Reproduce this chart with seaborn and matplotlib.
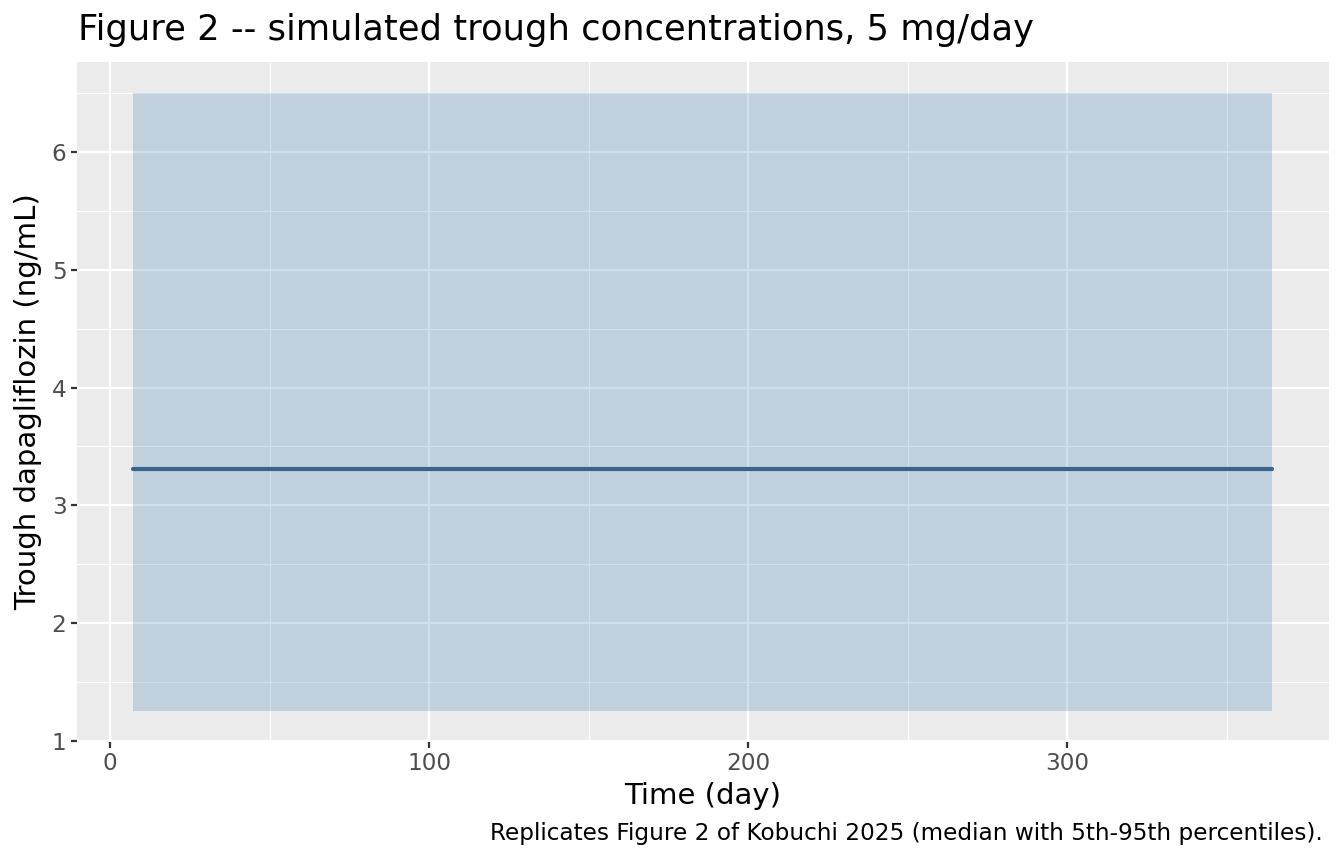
import numpy as np
import pandas as pd
import seaborn as sns
import matplotlib.pyplot as plt

# values (constant steady-state trough)
days = [7, 364]
median_conc = [3.31, 3.31]
p05_conc = [1.25, 1.25]
p95_conc = [6.5, 6.5]

x_ticks = [0, 100, 200, 300]
y_ticks = [1, 2, 3, 4, 5, 6]

df = pd.DataFrame({"day": days, "median": median_conc, "lo": p05_conc, "hi": p95_conc})

sns.set_theme(style="darkgrid", rc={
    "axes.facecolor": "#EBEBEB",
    "grid.color": "white",
    "axes.edgecolor": "#EBEBEB",
})
plt.rcParams["font.family"] = ["DejaVu Sans"]

fig = plt.figure(figsize=(13.44, 8.64), dpi=100)
ax = fig.add_axes([77 / 1344, 1 - 742 / 864, (1329 - 77) / 1344, (742 - 62) / 864])

# ribbon 5th-95th percentile, then median line
ax.fill_between(df["day"], df["lo"], df["hi"], color="steelblue", alpha=0.25, linewidth=0, zorder=2)
sns.lineplot(data=df, x="day", y="median", color="#37638C", linewidth=3, ax=ax, zorder=3)

ax.set_xlim(-10.4, 382)
ax.set_ylim(0.99, 6.765)
ax.set_xticks(x_ticks)
ax.set_yticks(y_ticks)
ax.set_xticks([50, 150, 250, 350], minor=True)
ax.set_yticks([1.5, 2.5, 3.5, 4.5, 5.5, 6.5], minor=True)
ax.grid(which="major", color="white", linewidth=1.6)
ax.grid(which="minor", color="white", linewidth=0.8)
ax.set_axisbelow(True)
for s in ax.spines.values():
    s.set_visible(False)

ax.tick_params(axis="both", which="major", length=4.5, width=1.6, color="#333333",
               labelcolor="#4D4D4D", labelsize=16.7, pad=3, bottom=True, left=True)
ax.tick_params(axis="both", which="minor", length=0)

ax.set_xlabel("Time (day)", fontsize=21, color="black", labelpad=5)
ax.set_ylabel("Trough dapagliflozin (ng/mL)", fontsize=21, color="black", labelpad=7)

fig.text(78 / 1344, 1 - 40 / 864, "Figure 2 -- simulated trough concentrations, 5 mg/day",
         fontsize=25.4, ha="left", va="baseline", color="black")
fig.text(1323 / 1344, 1 - 840 / 864,
         "Replicates Figure 2 of Kobuchi 2025 (median with 5th-95th percentiles).",
         fontsize=16.7, ha="right", va="baseline", color="black")

fig.savefig("out.png", dpi=100)
